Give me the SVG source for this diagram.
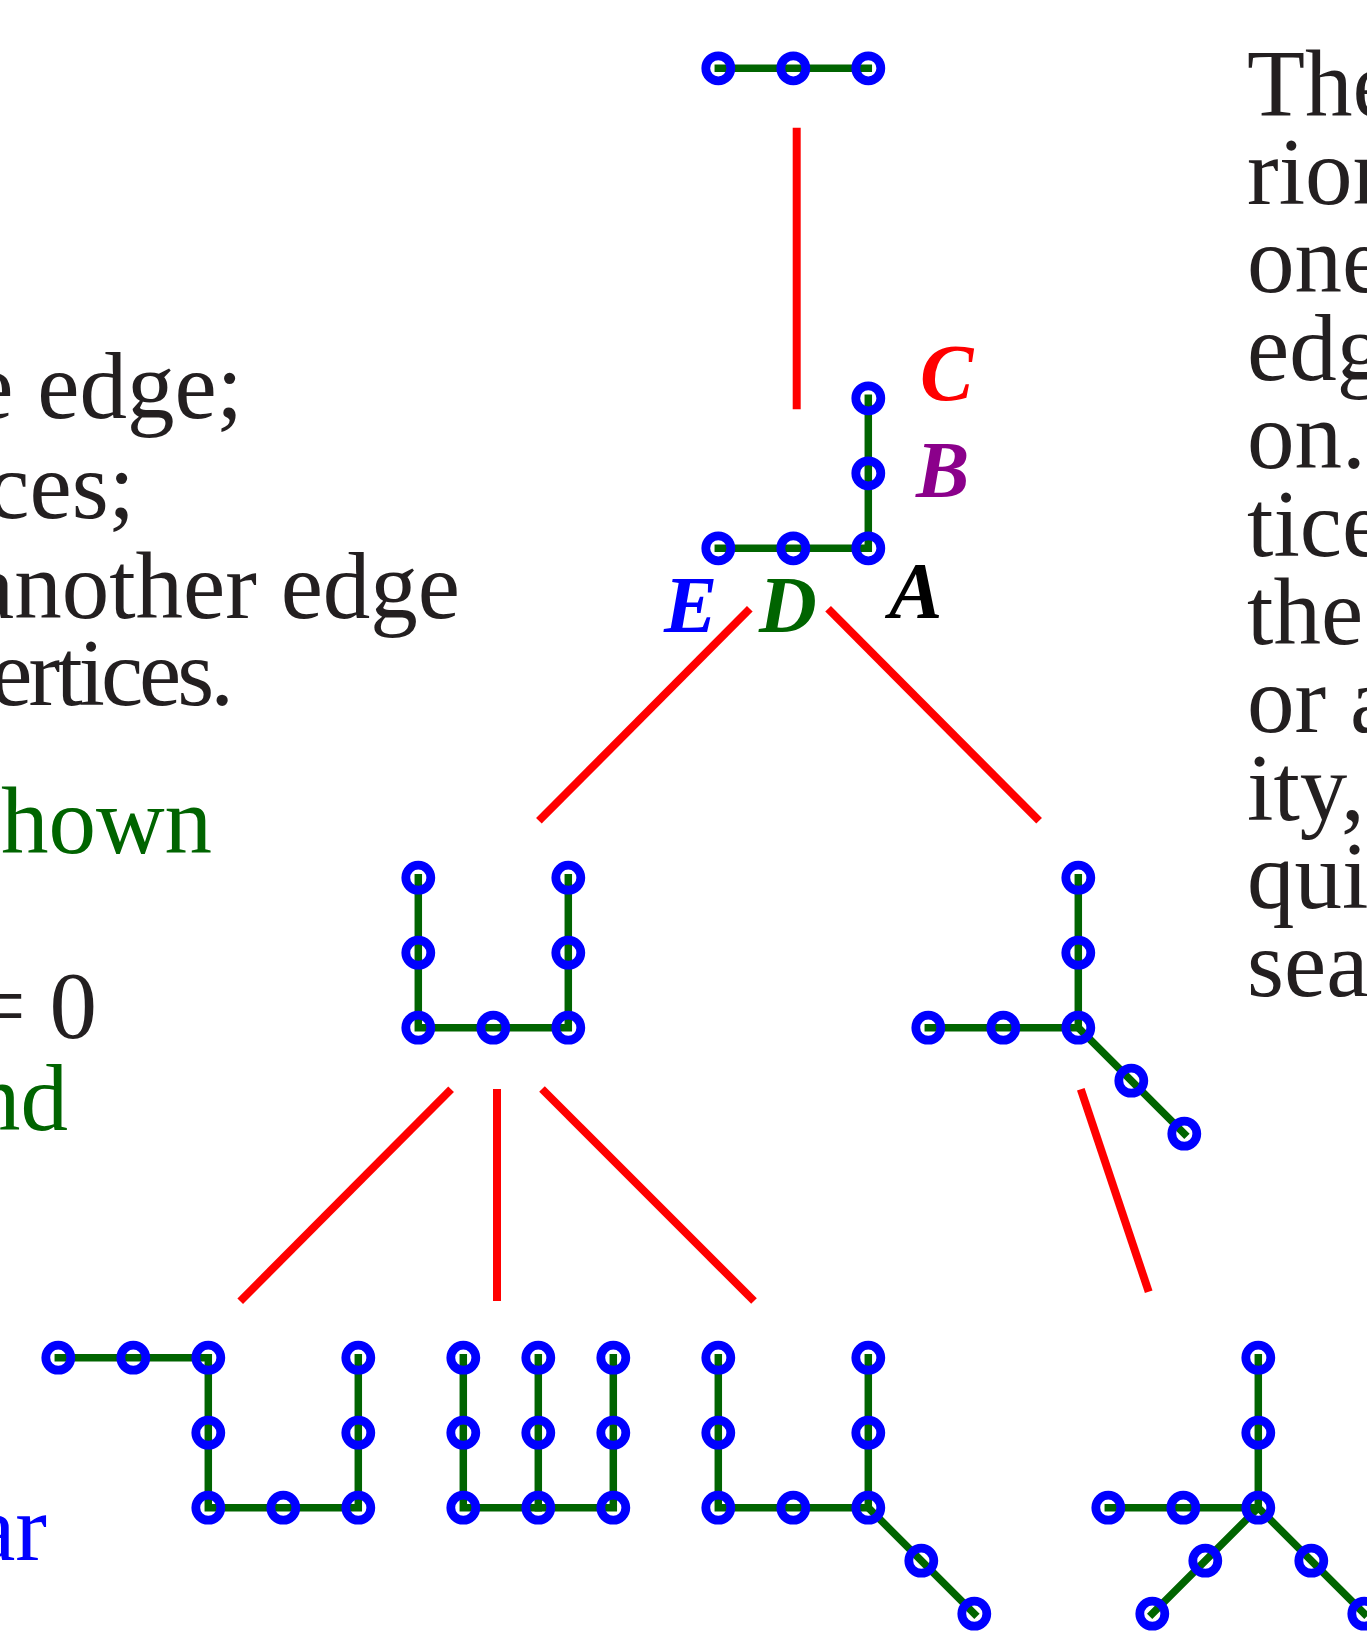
<svg xmlns="http://www.w3.org/2000/svg" width="1367" height="1637" viewBox="0 0 1367 1637">
<style>
.e{fill:none;stroke:#006400;stroke-width:7.5;stroke-linejoin:miter;stroke-linecap:square}
.v{fill:none;stroke:#0000ff;stroke-width:8.8}
.r{stroke:#ff0000;stroke-width:8;fill:none}
.t{font-family:"Liberation Serif","Times New Roman",serif;font-size:95px;fill:#231f20}
.lab{font-family:"Liberation Serif","Times New Roman",serif;font-size:80px;font-weight:bold;font-style:italic}
</style>
<rect width="1367" height="1637" fill="#fff"/>
<g id="text-left" class="t" text-anchor="end">
<text x="243" y="418">e edge;</text>
<text x="135" y="518">ces;</text>
<text x="460" y="618">another edge</text>
<text x="230" y="705" letter-spacing="-4">ertices.</text>
<text x="212" y="853" fill="#006400">hown</text>
<text x="97" y="1038">= 0</text>
<text x="68" y="1130" fill="#006400">nd</text>
<text x="47" y="1560" fill="#0000ff">ar</text>
</g>
<g id="text-right" class="t">
<text x="1247" y="116">The</text>
<text x="1247" y="204">rion</text>
<text x="1247" y="292">one</text>
<text x="1247" y="380">edg</text>
<text x="1247" y="468">on.</text>
<text x="1247" y="556">tice</text>
<text x="1247" y="644">the</text>
<text x="1247" y="732">or a</text>
<text x="1247" y="820">ity,</text>
<text x="1247" y="908">qui</text>
<text x="1247" y="996">sea</text>
</g>
<g id="connectors" class="r">
<line x1="796.7" y1="127.7" x2="796.7" y2="409.3"/>
<line x1="749.8" y1="608.8" x2="538.9" y2="820.8"/>
<line x1="828.1" y1="608.8" x2="1039.1" y2="820.8"/>
<line x1="451.1" y1="1089.2" x2="240.2" y2="1301.2"/>
<line x1="497" y1="1089" x2="497" y2="1301"/>
<line x1="542" y1="1089" x2="754" y2="1301"/>
<line x1="1080.8" y1="1089.2" x2="1148.7" y2="1291.8"/>
</g>
<g id="node1">
<polyline class="e" points="718.3,68.3 868.3,68.3"/>
<g class="v"><circle cx="718.3" cy="68.3" r="12.5"/><circle cx="793.3" cy="68.3" r="12.5"/><circle cx="868.3" cy="68.3" r="12.5"/></g>
</g>
<g id="node2">
<polyline class="e" points="718.3,548.3 868.3,548.3 868.3,398.3"/>
<g class="v"><circle cx="718.3" cy="548.3" r="12.5"/><circle cx="793.3" cy="548.3" r="12.5"/><circle cx="868.3" cy="548.3" r="12.5"/><circle cx="868.3" cy="473.3" r="12.5"/><circle cx="868.3" cy="398.3" r="12.5"/></g>
<text class="lab" x="920" y="400" fill="#ff0000">C</text>
<text class="lab" x="916" y="497" fill="#8b008b">B</text>
<text class="lab" x="889" y="618" fill="#000">A</text>
<text class="lab" x="664" y="632" fill="#0000ff">E</text>
<text class="lab" x="759" y="632" fill="#006400">D</text>
</g>
<g id="node3">
<polyline class="e" points="418.3,877.7 418.3,1027.7 568.3,1027.7 568.3,877.7"/>
<g class="v"><circle cx="418.3" cy="877.7" r="12.5"/><circle cx="418.3" cy="952.7" r="12.5"/><circle cx="418.3" cy="1027.7" r="12.5"/><circle cx="493.3" cy="1027.7" r="12.5"/><circle cx="568.3" cy="1027.7" r="12.5"/><circle cx="568.3" cy="952.7" r="12.5"/><circle cx="568.3" cy="877.7" r="12.5"/></g>
</g>
<g id="node4">
<polyline class="e" points="928.3,1027.7 1078.3,1027.7 1078.3,877.7"/>
<polyline class="e" points="1078.3,1027.7 1184.3,1133.7"/>
<g class="v"><circle cx="928.3" cy="1027.7" r="12.5"/><circle cx="1003.3" cy="1027.7" r="12.5"/><circle cx="1078.3" cy="1027.7" r="12.5"/><circle cx="1078.3" cy="952.7" r="12.5"/><circle cx="1078.3" cy="877.7" r="12.5"/><circle cx="1131.3" cy="1080.7" r="12.5"/><circle cx="1184.3" cy="1133.7" r="12.5"/></g>
</g>
<g id="node5">
<polyline class="e" points="58.3,1357.7 208.3,1357.7 208.3,1507.7 358.3,1507.7 358.3,1357.7"/>
<g class="v"><circle cx="58.3" cy="1357.7" r="12.5"/><circle cx="133.3" cy="1357.7" r="12.5"/><circle cx="208.3" cy="1357.7" r="12.5"/><circle cx="208.3" cy="1432.7" r="12.5"/><circle cx="208.3" cy="1507.7" r="12.5"/><circle cx="283.3" cy="1507.7" r="12.5"/><circle cx="358.3" cy="1507.7" r="12.5"/><circle cx="358.3" cy="1432.7" r="12.5"/><circle cx="358.3" cy="1357.7" r="12.5"/></g>
</g>
<g id="node6">
<polyline class="e" points="463.3,1357.7 463.3,1507.7 613.3,1507.7 613.3,1357.7"/>
<polyline class="e" points="538.3,1357.7 538.3,1507.7"/>
<g class="v"><circle cx="463.3" cy="1357.7" r="12.5"/><circle cx="463.3" cy="1432.7" r="12.5"/><circle cx="463.3" cy="1507.7" r="12.5"/><circle cx="538.3" cy="1357.7" r="12.5"/><circle cx="538.3" cy="1432.7" r="12.5"/><circle cx="538.3" cy="1507.7" r="12.5"/><circle cx="613.3" cy="1357.7" r="12.5"/><circle cx="613.3" cy="1432.7" r="12.5"/><circle cx="613.3" cy="1507.7" r="12.5"/></g>
</g>
<g id="node7">
<polyline class="e" points="718.3,1357.7 718.3,1507.7 868.3,1507.7 868.3,1357.7"/>
<polyline class="e" points="868.3,1507.7 974.3,1613.7"/>
<g class="v"><circle cx="718.3" cy="1357.7" r="12.5"/><circle cx="718.3" cy="1432.7" r="12.5"/><circle cx="718.3" cy="1507.7" r="12.5"/><circle cx="793.3" cy="1507.7" r="12.5"/><circle cx="868.3" cy="1507.7" r="12.5"/><circle cx="868.3" cy="1432.7" r="12.5"/><circle cx="868.3" cy="1357.7" r="12.5"/><circle cx="921.3" cy="1560.7" r="12.5"/><circle cx="974.3" cy="1613.7" r="12.5"/></g>
</g>
<g id="node8">
<polyline class="e" points="1108.3,1507.7 1258.3,1507.7 1258.3,1357.7"/>
<polyline class="e" points="1152.3,1613.7 1258.3,1507.7 1364.3,1613.7"/>
<g class="v"><circle cx="1258.3" cy="1357.7" r="12.5"/><circle cx="1258.3" cy="1432.7" r="12.5"/><circle cx="1258.3" cy="1507.7" r="12.5"/><circle cx="1183.3" cy="1507.7" r="12.5"/><circle cx="1108.3" cy="1507.7" r="12.5"/><circle cx="1205.3" cy="1560.7" r="12.5"/><circle cx="1152.3" cy="1613.7" r="12.5"/><circle cx="1311.3" cy="1560.7" r="12.5"/><circle cx="1364.3" cy="1613.7" r="12.5"/></g>
</g>
</svg>
